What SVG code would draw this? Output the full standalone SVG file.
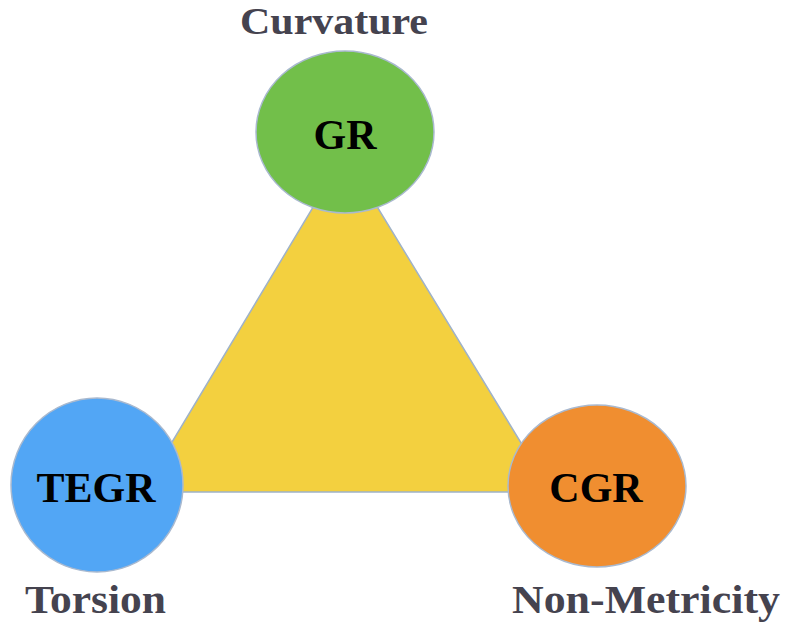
<svg xmlns="http://www.w3.org/2000/svg" width="786" height="632" viewBox="0 0 786 632">
<style>
.node{stroke:#a9b9cf;stroke-width:1.5}
.lbl{font-family:"Liberation Serif","Times New Roman",serif;font-weight:bold;fill:#000;text-anchor:middle}
.cap{font-family:"Liberation Serif","Times New Roman",serif;font-weight:bold;fill:#45434f}
</style>
<rect width="786" height="632" fill="#fff"/>
<g id="connectors">
<polygon points="345,154 142,492 551,492" fill="#f3d03f" stroke="#9fb2c9" stroke-width="1.5"/>
</g>
<g id="gr">
<ellipse class="node" cx="345" cy="132" rx="89" ry="81" fill="#72bf4a"/>
<text class="lbl" x="345" y="149" font-size="42">GR</text>
</g>
<g id="tegr">
<ellipse class="node" cx="97" cy="485" rx="86" ry="87" fill="#52a6f5"/>
<text class="lbl" x="96" y="502" font-size="42">TEGR</text>
</g>
<g id="cgr">
<ellipse class="node" cx="597" cy="486" rx="89" ry="81" fill="#f08e30"/>
<text class="lbl" x="596" y="502" font-size="42">CGR</text>
</g>
<g id="captions">
<text class="cap" x="240" y="34" font-size="38" textLength="188" lengthAdjust="spacingAndGlyphs">Curvature</text>
<text class="cap" x="25" y="613" font-size="40" textLength="141" lengthAdjust="spacingAndGlyphs">Torsion</text>
<text class="cap" x="512" y="613" font-size="40" textLength="268" lengthAdjust="spacingAndGlyphs">Non-Metricity</text>
</g>
</svg>
